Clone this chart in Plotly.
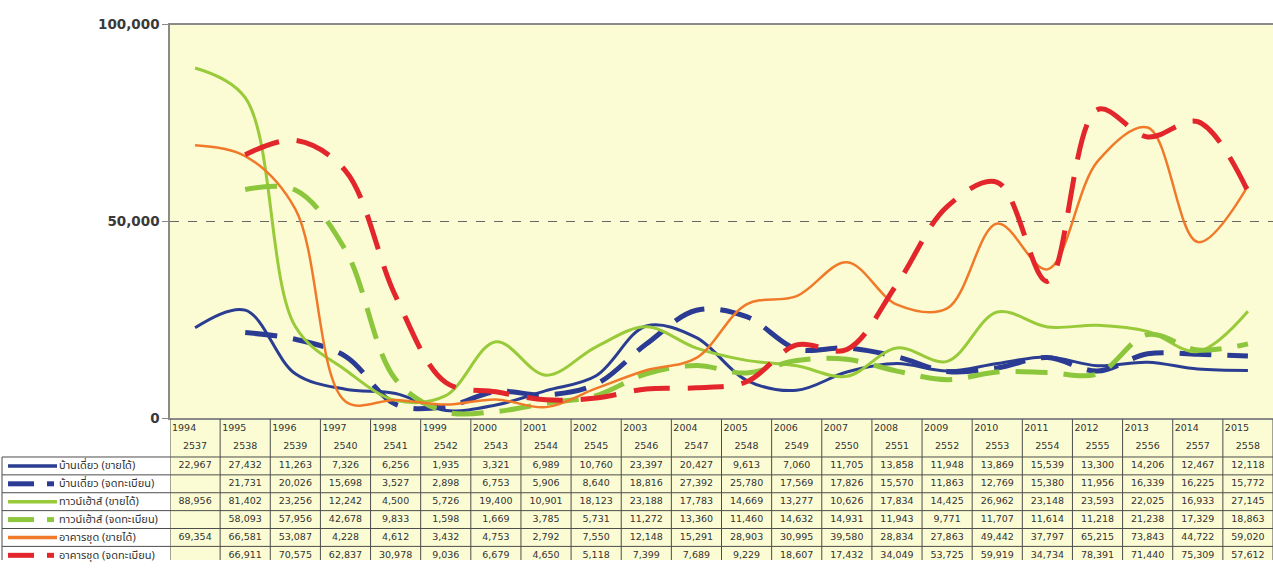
import plotly.graph_objects as go

W, H = 1273, 568

years = [1994, 1995, 1996, 1997, 1998, 1999, 2000, 2001, 2002, 2003, 2004,
         2005, 2006, 2007, 2008, 2009, 2010, 2011, 2012, 2013, 2014, 2015]
be_years = ["2537", "2538", "2539", "2540", "2541", "2542", "2543", "2544", "2545", "2546", "2547",
            "2548", "2549", "2550", "2551", "2552", "2553", "2554", "2555", "2556", "2557", "2558"]

sh_sold = [22967, 27432, 11263, 7326, 6256, 1935, 3321, 6989, 10760, 23397, 20427,
           9613, 7060, 11705, 13858, 11948, 13869, 15539, 13300, 14206, 12467, 12118]
sh_reg = [None, 21731, 20026, 15698, 3527, 2898, 6753, 5906, 8640, 18816, 27392,
          25780, 17569, 17826, 15570, 11863, 12769, 15380, 11956, 16339, 16225, 15772]
th_sold = [88956, 81402, 23256, 12242, 4500, 5726, 19400, 10901, 18123, 23188, 17783,
           14669, 13277, 10626, 17834, 14425, 26962, 23148, 23593, 22025, 16933, 27145]
th_reg = [None, 58093, 57956, 42678, 9833, 1598, 1669, 3785, 5731, 11272, 13360,
          11460, 14632, 14931, 11943, 9771, 11707, 11614, 11218, 21238, 17329, 18863]
co_sold = [69354, 66581, 53087, 4228, 4612, 3432, 4753, 2792, 7550, 12148, 15291,
           28903, 30995, 39580, 28834, 27863, 49442, 37797, 65215, 73843, 44722, 59020]
co_reg = [None, 66911, 70575, 62837, 30978, 9036, 6679, 4650, 5118, 7399, 7689,
          9229, 18607, 17432, 34049, 53725, 59919, 34734, 78391, 71440, 75309, 57612]

labels = ["บ้านเดี่ยว (ขายได้)", "บ้านเดี่ยว (จดทะเบียน)", "ทาวน์เฮ้าส์ (ขายได้)",
          "ทาวน์เฮ้าส์ (จดทะเบียน)", "อาคารชุด (ขายได้)", "อาคารชุด (จดทะเบียน)"]
y_ticks = [0, 50000, 100000]

series = [sh_sold, sh_reg, th_sold, th_reg, co_sold, co_reg]
colors = ["#2a3d92", "#2b3b93", "#98ca3a", "#8cc63c", "#f07a2a", "#e3262c"]
widths = [3, 5, 3, 5, 2.5, 5]
dashes = ["solid", "32px,16px", "solid", "32px,16px", "solid", "36px,18px"]

fig = go.Figure()

# ---- chart lines ----
for s, c, w, d, lab in zip(series, colors, widths, dashes, labels):
    xs = [x for x, v in zip(years, s) if v is not None]
    ys = [v for v in s if v is not None]
    fig.add_trace(go.Scatter(x=xs, y=ys, mode="lines", name=lab,
                             line=dict(color=c, width=w, dash=d, shape="spline", smoothing=1.0),
                             showlegend=False, xaxis="x", yaxis="y"))

# ---- table (text traces on y2, rows indexed) ----
tfont = dict(family="DejaVu Sans, Verdana, sans-serif", size=9.5, color="#333333")
ROW_PX = 18.4
ROW0_PX = 471.2
def row_of(px):
    return (px - ROW0_PX) / ROW_PX

fig.add_trace(go.Scatter(x=[y - 0.46 for y in years], y=[row_of(433)] * len(years),
                         text=[str(y) for y in years], mode="text", textposition="middle right",
                         textfont=tfont, showlegend=False, hoverinfo="skip",
                         xaxis="x", yaxis="y2", cliponaxis=False))
fig.add_trace(go.Scatter(x=years, y=[row_of(451)] * len(years),
                         text=be_years, mode="text", textposition="middle center",
                         textfont=tfont, showlegend=False, hoverinfo="skip",
                         xaxis="x", yaxis="y2", cliponaxis=False))
for i, s in enumerate(series):
    xs = [x for x, v in zip(years, s) if v is not None]
    txt = [f"{v:,}" for v in s if v is not None]
    fig.add_trace(go.Scatter(x=xs, y=[i] * len(xs), text=txt, mode="text",
                             textposition="middle center", textfont=tfont,
                             showlegend=False, hoverinfo="skip",
                             xaxis="x", yaxis="y2", cliponaxis=False))

shapes = []
gridc = "#4d4d4d"
# horizontal row lines
for k in range(7):
    yy = k - 0.5
    shapes.append(dict(type="line", xref="paper", yref="y2", x0=2 / W, x1=1, y0=yy, y1=yy,
                       line=dict(color=gridc, width=1)))
# vertical column lines
for k in range(len(years) + 1):
    xx = years[0] - 0.5 + k
    shapes.append(dict(type="line", xref="x", yref="y2", x0=xx, x1=xx,
                       y0=row_of(423), y1=row_of(580), line=dict(color=gridc, width=1)))
shapes.append(dict(type="line", xref="paper", yref="y2", x0=2 / W, x1=2 / W,
                   y0=-0.5, y1=row_of(580), line=dict(color=gridc, width=1)))

# legend swatches in the first column
for i, (c, d) in enumerate(zip(colors, dashes)):
    lw = 3.5 if d == "solid" else 5
    if d == "solid":
        shapes.append(dict(type="line", xref="paper", yref="y2", x0=8 / W, x1=57 / W,
                           y0=i, y1=i, line=dict(color=c, width=lw)))
    else:
        shapes.append(dict(type="line", xref="paper", yref="y2", x0=8 / W, x1=34 / W,
                           y0=i, y1=i, line=dict(color=c, width=lw)))
        shapes.append(dict(type="line", xref="paper", yref="y2", x0=47 / W, x1=54 / W,
                           y0=i, y1=i, line=dict(color=c, width=lw)))

annotations = []
for i, lab in enumerate(labels):
    annotations.append(dict(text=lab, xref="paper", yref="y2", x=57 / W, y=i,
                            xanchor="left", yanchor="middle", showarrow=False,
                            font=dict(family="Noto Sans Thai, Tahoma, DejaVu Sans, sans-serif",
                                      size=11, color="#333333")))

y_top = (H - 17) / H
y_bot = (H - 422) / H
fig.update_layout(
    width=W, height=H,
    margin=dict(l=0, r=0, t=0, b=0),
    paper_bgcolor="white",
    plot_bgcolor="#fbfcd3",
    xaxis=dict(domain=[170 / W, 1], range=[years[0] - 0.5, years[-1] + 0.5],
               showticklabels=False, showgrid=False, zeroline=False,
               showline=True, linecolor="#8a8a8a", linewidth=1.5, mirror=True,
               ticks="", anchor="y"),
    yaxis=dict(domain=[y_bot, y_top], range=[0, 100000], tickvals=y_ticks,
               tickformat=",d", ticks="outside", ticklen=6, tickcolor="#8a8a8a",
               showline=True, linecolor="#8a8a8a", linewidth=1.5,
               showgrid=True, gridcolor="#666666", griddash="dash", gridwidth=1,
               zeroline=False,
               tickfont=dict(family="DejaVu Sans, Verdana, sans-serif", size=13.5,
                             color="#3a3a3a", weight="bold")),
    yaxis2=dict(domain=[0, (H - 423) / H], range=[row_of(568), row_of(423)],
                showticklabels=False, showgrid=False, zeroline=False, showline=False,
                anchor="x", fixedrange=True),
    shapes=shapes,
    annotations=annotations,
)

fig.write_html("out.html")
